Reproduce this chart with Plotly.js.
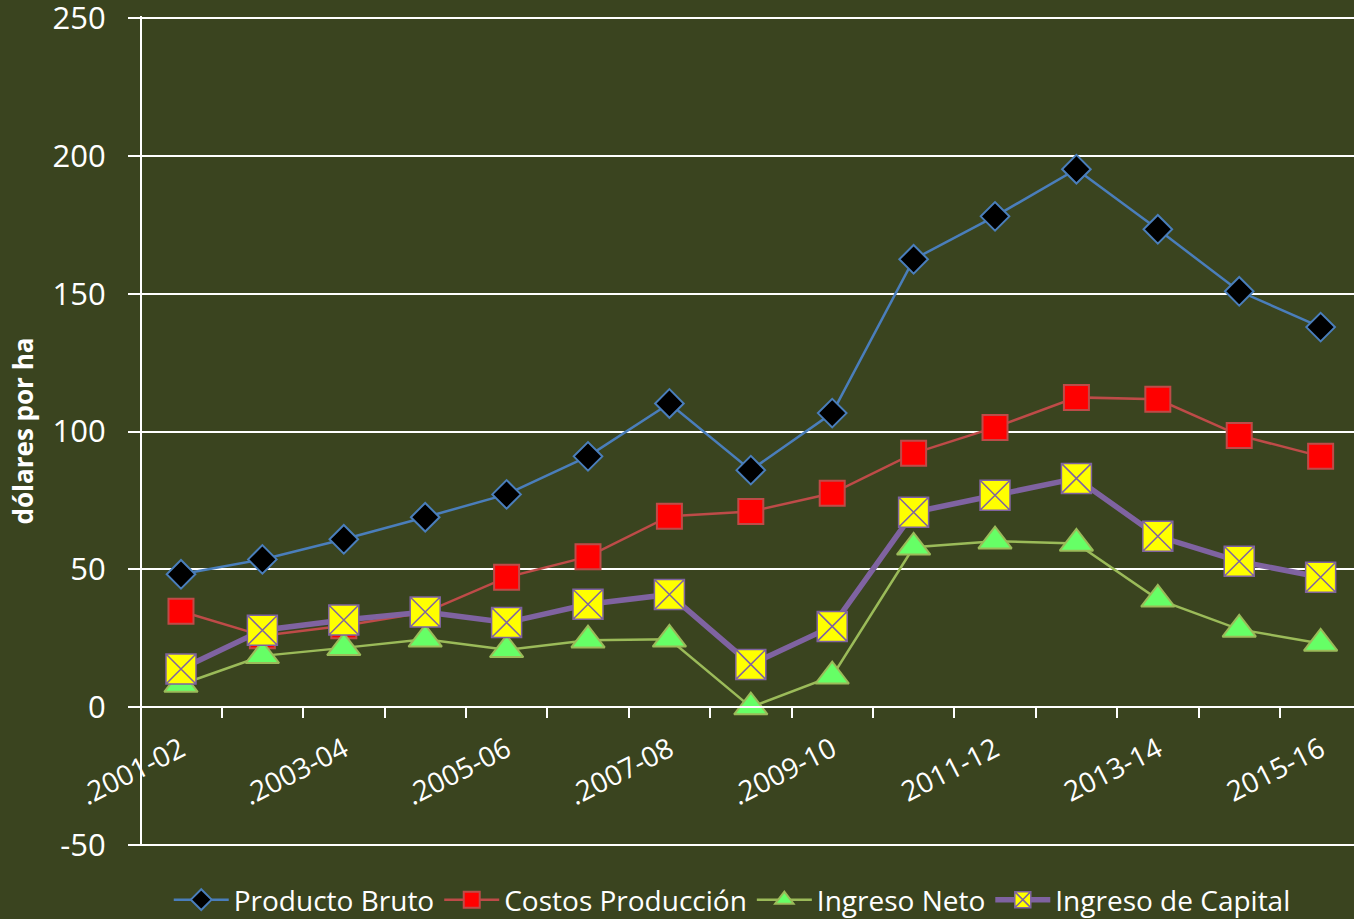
<!DOCTYPE html>
<html>
<head>
<meta charset="utf-8">
<script src="https://cdn.plot.ly/plotly-3.0.1.min.js"></script>
<style>
html,body{margin:0;padding:0;background:#3a441f;}
#chart{width:1354px;height:919px;}
</style>
</head>
<body>
<div id="chart"></div>
<script>
// ---- data ----
const categories = ['2001-02','2002-03','2003-04','2004-05','2005-06','2006-07','2007-08','2008-09',
                    '2009-10','2010-11','2011-12','2012-13','2013-14','2014-15','2015-16'];
const tickLabels = ['.2001-02','.2003-04','.2005-06','.2007-08','.2009-10','2011-12','2013-14','2015-16'];
const yTickVals = [-50, 0, 50, 100, 150, 200, 250];
const yTickText = ['-50', '0', '50', '100', '150', '200', '250'];
const productoBruto   = [48.2, 53.6, 60.9, 68.9, 77.2, 91.0, 110.2, 86.0, 106.7, 162.5, 178.1, 195.2, 173.4, 150.9, 137.9];
const costosProduccion= [34.8, 25.9, 29.5, 34.4, 47.1, 54.6, 69.3, 71.0, 77.6, 92.1, 101.5, 112.4, 111.7, 98.6, 91.0];
const ingresoNeto     = [8.2, 18.6, 21.5, 24.6, 20.8, 24.3, 24.6, 0.0, 11.2, 58.0, 60.2, 59.4, 39.1, 28.2, 23.1];
const ingresoCapital  = [13.8, 27.9, 31.6, 34.5, 30.7, 37.3, 40.9, 15.5, 29.3, 70.7, 76.9, 83.0, 62.0, 52.9, 47.1];
const seriesNames = ['Producto Bruto','Costos Producción','Ingreso Neto','Ingreso de Capital'];
const yTitle = 'dólares por ha';

// ---- layout helpers ----
const idx = categories.map((c, i) => i);
const boundaryTicks = categories.slice(0, -1).map((c, i) => i + 0.5);
const labelTicks = tickLabels.map((t, i) => i * 2);
const FONT = 'Open Sans, Noto Sans, sans-serif';
const BG = '#3a441f';
const xRange = [-0.479, 14.41];
const yRange = [-50.4, 250.8];
const zeroPos = (0 - yRange[0]) / (yRange[1] - yRange[0]);

const traces = [
  {x: idx, y: productoBruto, name: seriesNames[0], type: 'scatter', mode: 'lines+markers',
   line: {color: '#4a7ebb', width: 2.5},
   marker: {symbol: 'diamond', size: 22, color: '#000000', line: {color: '#4a7ebb', width: 2}}},
  {x: idx, y: costosProduccion, name: seriesNames[1], type: 'scatter', mode: 'lines+markers',
   line: {color: '#be4b48', width: 2.5},
   marker: {symbol: 'square', size: 25, color: '#ff0000', line: {color: '#be4b48', width: 2}}},
  {x: idx, y: ingresoNeto, name: seriesNames[2], type: 'scatter', mode: 'lines+markers',
   line: {color: '#9bbb59', width: 2.5},
   marker: {symbol: 'triangle-up', size: 29, color: '#66ff66', line: {color: '#9bbb59', width: 2}}},
  {x: idx, y: ingresoCapital, name: seriesNames[3], type: 'scatter', mode: 'lines+markers',
   line: {color: '#7f63a1', width: 5.5},
   marker: {symbol: 'square-x', size: 30, color: '#ffff00', line: {color: '#7f63a1', width: 1.5}}},
  {x: idx, y: productoBruto, xaxis: 'x2', type: 'scatter', mode: 'none', showlegend: false, hoverinfo: 'skip'}
];

const layout = {
  width: 1354, height: 919,
  paper_bgcolor: BG, plot_bgcolor: BG,
  margin: {l: 142, r: 0, t: 16, b: 73, pad: 0, autoexpand: false},
  font: {family: FONT, color: '#ffffff'},
  showlegend: true,
  legend: {orientation: 'h', x: 0.487, xanchor: 'center', y: -0.065, yanchor: 'middle',
           font: {family: FONT, size: 28, color: '#ffffff'}, bgcolor: 'rgba(0,0,0,0)',
           traceorder: 'normal', itemwidth: 55},
  xaxis: {
    range: xRange, anchor: 'free', position: zeroPos,
    showgrid: false, zeroline: false,
    showline: true, linecolor: '#ffffff', linewidth: 2,
    tickmode: 'array', tickvals: boundaryTicks, showticklabels: false,
    ticks: 'outside', ticklen: 10, tickwidth: 2, tickcolor: '#ffffff'
  },
  xaxis2: {
    range: xRange, overlaying: 'x', anchor: 'free', position: zeroPos,
    showgrid: false, zeroline: false, showline: false,
    tickmode: 'array', tickvals: labelTicks, ticktext: tickLabels,
    ticks: '', tickangle: -27, ticklabelstandoff: 20,
    tickfont: {family: FONT, size: 28, color: '#ffffff'}
  },
  yaxis: {
    range: yRange, tickmode: 'array', tickvals: yTickVals, ticktext: yTickText,
    showgrid: true, gridcolor: '#ffffff', gridwidth: 2,
    zeroline: true, zerolinecolor: '#ffffff', zerolinewidth: 2,
    showline: true, linecolor: '#ffffff', linewidth: 2,
    ticks: 'outside', ticklen: 12, tickwidth: 2, tickcolor: '#ffffff',
    ticklabelstandoff: 16, ticklabeloverflow: 'allow',
    tickfont: {family: FONT, size: 31, color: '#ffffff'},
    title: {text: '<b>' + yTitle + '</b>', standoff: 12,
            font: {family: FONT, size: 26, color: '#ffffff'}}
  }
};

Plotly.newPlot('chart', traces, layout, {displayModeBar: false, staticPlot: true});
</script>
</body>
</html>
